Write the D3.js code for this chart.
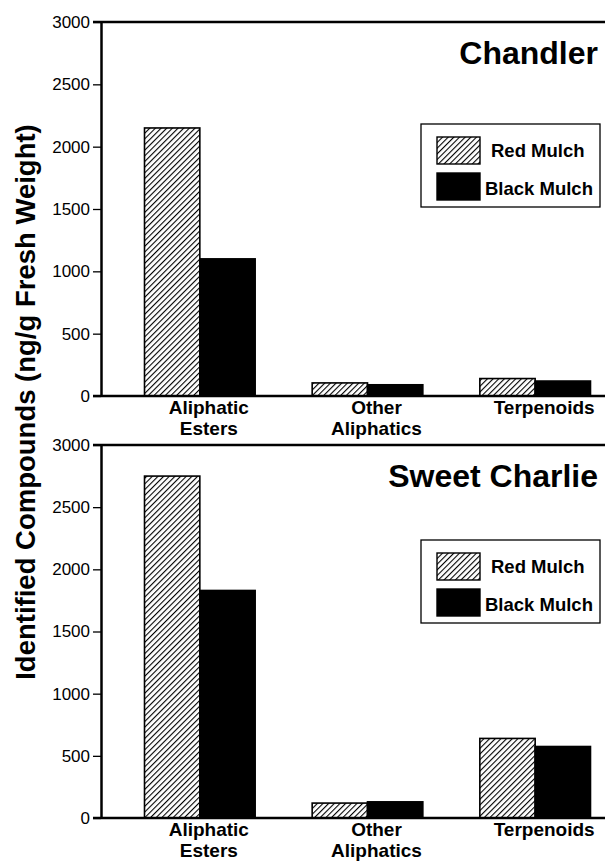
<!DOCTYPE html>
<html>
<head>
<meta charset="utf-8">
<script src="https://cdn.jsdelivr.net/npm/d3@7"></script>
<style>
  body { margin: 0; background: #fff; }
  svg { display: block; font-family: "Liberation Sans", Arial, sans-serif; }
</style>
</head>
<body>
<div id="chart"></div>
<script>
const categories = ["Aliphatic Esters", "Other Aliphatics", "Terpenoids"];
const categoryLines = [["Aliphatic", "Esters"], ["Other", "Aliphatics"], ["Terpenoids"]];
const series = ["Red Mulch", "Black Mulch"];
const yTicks = [0, 500, 1000, 1500, 2000, 2500, 3000];

const chandlerRed = [2150, 105, 140];
const chandlerBlack = [1100, 90, 120];
const sweetRed = [2750, 120, 640];
const sweetBlack = [1830, 130, 575];

const panels = [
    { title: "Chandler", red: chandlerRed, black: chandlerBlack, top: 22, bottom: 396, legendTop: 124 },
    { title: "Sweet Charlie", red: sweetRed, black: sweetBlack, top: 445, bottom: 818, legendTop: 540 }
];

const width = 605, height = 863;
const axisX = 101;

const svg = d3.select("#chart").append("svg")
    .attr("width", width).attr("height", height);

// hatch pattern for red mulch
const defs = svg.append("defs");
const pat = defs.append("pattern")
    .attr("id", "hatch")
    .attr("patternUnits", "userSpaceOnUse")
    .attr("width", 4).attr("height", 4)
    .attr("patternTransform", "rotate(45)");
pat.append("rect").attr("width", 4).attr("height", 4).attr("fill", "#fff");
pat.append("line").attr("x1", 0).attr("y1", 0).attr("x2", 0).attr("y2", 4)
    .attr("stroke", "#000").attr("stroke-width", 2.2);

const x = d3.scaleBand().domain(categories).range([116, 619])
    .paddingInner(0.34).paddingOuter(0.17);
const xs = d3.scaleBand().domain(series).range([0, x.bandwidth()]);

const fills = { "Red Mulch": "url(#hatch)", "Black Mulch": "#000" };

panels.forEach(p => {
    const y = d3.scaleLinear().domain([0, 3000]).range([p.bottom, p.top]);
    const g = svg.append("g");

    // bars
    const rows = categories.map((c, i) => ({ cat: c, vals: [p.red[i], p.black[i]] }));
    rows.forEach(r => {
        series.forEach((s, j) => {
            g.append("rect")
                .attr("x", x(r.cat) + xs(s))
                .attr("y", y(r.vals[j]))
                .attr("width", xs.bandwidth())
                .attr("height", y(0) - y(r.vals[j]))
                .attr("fill", fills[s])
                .attr("stroke", "#000")
                .attr("stroke-width", 1.6);
        });
    });

    // y axis
    const yAxis = g.append("g")
        .attr("transform", `translate(${axisX},0)`)
        .call(d3.axisLeft(y).tickValues(yTicks).tickFormat(d3.format("d"))
            .tickSize(8).tickPadding(3).tickSizeOuter(0));
    yAxis.select(".domain").attr("stroke-width", 2.5);
    yAxis.selectAll(".tick line").attr("stroke-width", 1.3);
    yAxis.selectAll(".tick text").style("font-size", "17px").attr("fill", "#000");

    // top frame and bottom axis
    g.append("line").attr("x1", axisX - 8).attr("x2", width).attr("y1", p.top).attr("y2", p.top)
        .attr("stroke", "#000").attr("stroke-width", 2.5);
    g.append("line").attr("x1", axisX - 8).attr("x2", width).attr("y1", p.bottom).attr("y2", p.bottom)
        .attr("stroke", "#000").attr("stroke-width", 2.5);

    // category labels
    categories.forEach((c, i) => {
        const cx = x(c) + x.bandwidth() / 2 + 9;
        const t = g.append("text")
            .attr("x", cx)
            .attr("y", p.bottom + 18)
            .attr("text-anchor", "middle")
            .style("font-size", "19px").style("font-weight", "bold");
        categoryLines[i].forEach((ln, k) => {
            t.append("tspan").attr("x", cx)
                .attr("dy", k === 0 ? 0 : 21).text(ln);
        });
    });

    // title
    g.append("text").attr("x", 598).attr("y", p.top + 42)
        .attr("text-anchor", "end")
        .style("font-size", "32px").style("font-weight", "bold")
        .text(p.title);

    // legend
    const lg = g.append("g").attr("transform", `translate(421,${p.legendTop})`);
    lg.append("rect").attr("width", 179).attr("height", 83)
        .attr("fill", "#fff").attr("stroke", "#000").attr("stroke-width", 1.3);
    series.forEach((s, j) => {
        lg.append("rect").attr("x", 16).attr("y", 13 + j * 36)
            .attr("width", 43).attr("height", 27)
            .attr("fill", fills[s]).attr("stroke", "#000").attr("stroke-width", 1.4);
        lg.append("text").attr("x", j === 0 ? 70 : 64).attr("y", 33 + j * 38)
            .style("font-size", "18.5px").style("font-weight", "bold")
            .text(s);
    });
});

// shared y-axis title
svg.append("text")
    .attr("transform", `translate(35,402) rotate(-90)`)
    .attr("text-anchor", "middle")
    .style("font-size", "27.5px").style("font-weight", "bold")
    .text("Identified Compounds (ng/g Fresh Weight)");
</script>
</body>
</html>
